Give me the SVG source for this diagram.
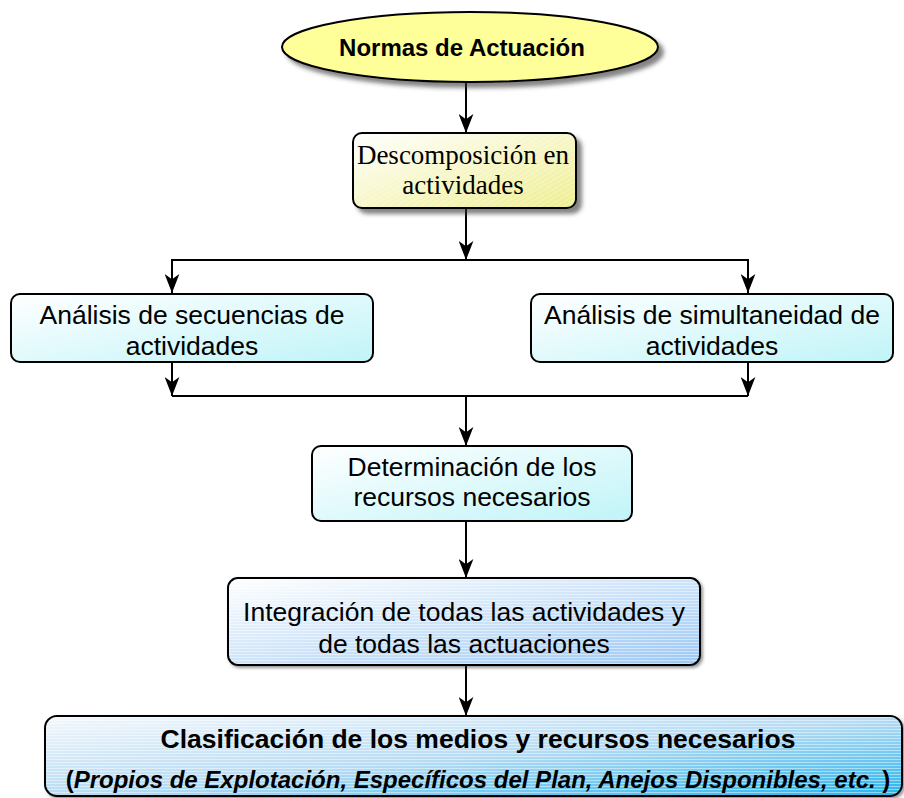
<svg xmlns="http://www.w3.org/2000/svg" width="904" height="798" viewBox="0 0 904 798">
  <style>
    .box { stroke: #000; stroke-width: 2; }
    .sans { font-family: "Liberation Sans", Arial, sans-serif; font-size: 26.5px; fill: #000; text-anchor: middle; }
    .serif { font-family: "Liberation Serif", "Times New Roman", serif; font-size: 27px; fill: #000; text-anchor: middle; }
    .bold { font-weight: bold; }
    .title { font-size: 24px; }
    .sub { font-size: 24px; }
    .conn { stroke: #000; stroke-width: 2; fill: none; }
  </style>
  <defs>
    <marker id="arr" viewBox="0 0 18 14" refX="18" refY="7" markerWidth="19" markerHeight="15" markerUnits="userSpaceOnUse" orient="auto">
      <path d="M0,0 L18,7 L0,14 L5,7 Z" fill="#000"/>
    </marker>
    <filter id="shadow" x="-10%" y="-10%" width="130%" height="140%">
      <feDropShadow dx="5" dy="5" stdDeviation="2" flood-color="#333" flood-opacity="0.6"/>
    </filter>
    <filter id="shadowS" x="-10%" y="-10%" width="130%" height="140%">
      <feDropShadow dx="2" dy="2" stdDeviation="1.5" flood-color="#333" flood-opacity="0.5"/>
    </filter>
    <linearGradient id="gYellow" x1="0" y1="0" x2="1" y2="1">
      <stop offset="0" stop-color="#ffffff"/>
      <stop offset="1" stop-color="#eeee90"/>
    </linearGradient>
    <linearGradient id="gCyan" x1="0" y1="0" x2="1" y2="1">
      <stop offset="0" stop-color="#ffffff"/>
      <stop offset="1" stop-color="#c0f4f8"/>
    </linearGradient>
    <linearGradient id="gBlue" x1="0" y1="0" x2="1" y2="1">
      <stop offset="0" stop-color="#ffffff"/>
      <stop offset="1" stop-color="#9cc8f4"/>
    </linearGradient>
    <linearGradient id="gSky" x1="0" y1="0" x2="1" y2="1">
      <stop offset="0" stop-color="#f4f8fc"/>
      <stop offset="0.5" stop-color="#b8dcf4"/>
      <stop offset="1" stop-color="#28b4ec"/>
    </linearGradient>
    <pattern id="hDiag" width="4" height="4" patternUnits="userSpaceOnUse" patternTransform="rotate(-30)">
      <line x1="0" y1="0" x2="4" y2="0" stroke="#ffffff" stroke-width="1" stroke-opacity="0.6"/>
    </pattern>
    <pattern id="hHoriz" width="4" height="3" patternUnits="userSpaceOnUse">
      <line x1="0" y1="0.5" x2="4" y2="0.5" stroke="#ffffff" stroke-width="1" stroke-opacity="0.45"/>
    </pattern>
  </defs>

  <g id="connectors">
    <line class="conn" x1="466" y1="82" x2="466" y2="133" marker-end="url(#arr)"/>
    <line class="conn" x1="466" y1="209" x2="466" y2="260" marker-end="url(#arr)"/>
    <polyline class="conn" points="172,293 172,260 748,260 748,293"/>
    <line class="conn" x1="172" y1="260" x2="172" y2="293" marker-end="url(#arr)"/>
    <line class="conn" x1="748" y1="260" x2="748" y2="293" marker-end="url(#arr)"/>
    <line class="conn" x1="172" y1="362" x2="172" y2="396" marker-end="url(#arr)"/>
    <line class="conn" x1="748" y1="362" x2="748" y2="396" marker-end="url(#arr)"/>
    <line class="conn" x1="172" y1="396" x2="748" y2="396"/>
    <line class="conn" x1="466" y1="396" x2="466" y2="446" marker-end="url(#arr)"/>
    <line class="conn" x1="466" y1="522" x2="466" y2="578" marker-end="url(#arr)"/>
    <line class="conn" x1="466" y1="666" x2="466" y2="716" marker-end="url(#arr)"/>
  </g>

  <g id="normas">
    <ellipse cx="470" cy="47" rx="188" ry="35" fill="#ffff99" class="box" filter="url(#shadow)"/>
    <text x="462" y="56" class="sans bold title">Normas de Actuación</text>
  </g>

  <g id="descomposicion">
    <rect x="353" y="133" width="223" height="75" rx="9" fill="url(#gYellow)" class="box" filter="url(#shadow)"/>
    <rect x="354" y="134" width="221" height="73" rx="8" fill="url(#hDiag)"/>
    <text x="463" y="164" class="serif">Descomposición en</text>
    <text x="463" y="194" class="serif">actividades</text>
  </g>

  <g id="secuencias">
    <rect x="11" y="294" width="362" height="68" rx="9" fill="url(#gCyan)" class="box"/>
    <text x="192" y="324" class="sans">Análisis de secuencias de</text>
    <text x="192" y="355" class="sans">actividades</text>
  </g>

  <g id="simultaneidad">
    <rect x="531" y="294" width="362" height="68" rx="9" fill="url(#gCyan)" class="box"/>
    <text x="712" y="324" class="sans">Análisis de simultaneidad de</text>
    <text x="712" y="355" class="sans">actividades</text>
  </g>

  <g id="determinacion">
    <rect x="312" y="446" width="320" height="75" rx="9" fill="url(#gCyan)" class="box"/>
    <text x="472" y="476" class="sans">Determinación de los</text>
    <text x="472" y="506" class="sans">recursos necesarios</text>
  </g>

  <g id="integracion">
    <rect x="228" y="578" width="472" height="87" rx="10" fill="url(#gBlue)" class="box" filter="url(#shadowS)"/>
    <rect x="229" y="579" width="470" height="85" rx="9" fill="url(#hHoriz)"/>
    <text x="464" y="621" class="sans">Integración de todas las actividades y</text>
    <text x="464" y="653" class="sans">de todas las actuaciones</text>
  </g>

  <g id="clasificacion">
    <rect x="45" y="716" width="857" height="80" rx="12" fill="url(#gSky)" class="box" filter="url(#shadowS)"/>
    <rect x="46" y="717" width="855" height="78" rx="11" fill="url(#hHoriz)"/>
    <text x="478" y="748" class="sans bold">Clasificación de los medios y recursos necesarios</text>
    <text x="478" y="788" class="sans bold sub"><tspan>(</tspan><tspan font-style="italic">Propios de Explotación, Específicos del Plan, Anejos Disponibles, etc. </tspan><tspan>)</tspan></text>
  </g>
</svg>
